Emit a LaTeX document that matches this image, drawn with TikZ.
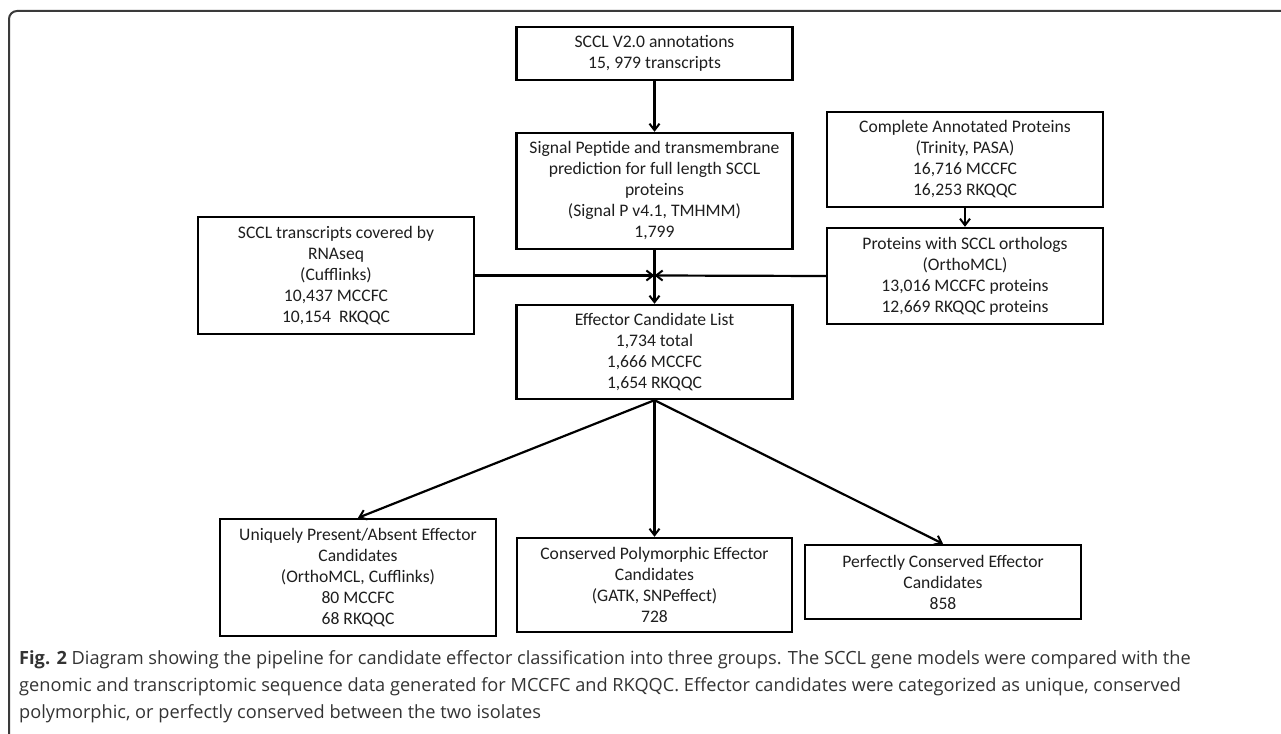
\documentclass[tikz,border=0pt]{standalone}
\usepackage{fontspec}
\setmainfont{Carlito}
\newfontfamily\capfont{Open Sans}
\usepackage{tikz}
\usetikzlibrary{shapes,arrows.meta,positioning,calc}

\definecolor{framegray}{HTML}{3A3A3A}
\definecolor{capgray}{HTML}{333333}
\definecolor{boxtext}{HTML}{1E1E1E}

\tikzset{
  stagebox/.style={draw=black, line width=2.4pt, align=center, inner sep=0pt, text=boxtext,
    minimum width=276pt, font=\fontsize{17.6}{21}\selectfont},
  flow/.style={line width=2.2pt, -{Straight Barb[length=6.5pt,width=10pt,line width=2pt]}},
}

\begin{document}
\begin{tikzpicture}[x=1pt,y=-1pt]
            \useasboundingbox (0,0) rectangle (1281,733);
            % frame
            \draw[framegray,line width=2pt,rounded corners=8pt] (9,740) -- (9,11) -- (1290,11);
            % main column
            \node[stagebox,minimum height=53pt] (annot) at (654.5,53.5) {SCCL V2.0 annotations\\15, 979 transcripts};
            \node[stagebox,minimum height=116pt] (sigp) at (654.5,191) {Signal Peptide and transmembrane\\prediction for full length SCCL\\proteins\\(Signal P v4.1, TMHMM)\\1,799};
            \node[stagebox,minimum height=94pt] (cand) at (654.5,352) {Effector Candidate List\\1,734 total\\1,666 MCCFC\\1,654 RKQQC};
            % side inputs
            \node[stagebox,minimum height=117pt] (rnaseq) at (336,275.5) {SCCL transcripts covered by\\RNAseq\\(Cufflinks)\\10,437 MCCFC\\10,154\ \ RKQQC};
            \node[stagebox,minimum height=95pt] (complete) at (965,159.5) {Complete Annotated Proteins\\(Trinity, PASA)\\16,716 MCCFC\\16,253 RKQQC};
            \node[stagebox,minimum height=96pt] (ortho) at (965,276) {Proteins with SCCL orthologs\\(OrthoMCL)\\13,016 MCCFC proteins\\12,669 RKQQC proteins};
            % three groups
            \node[stagebox,minimum height=117pt] (unique) at (358,577.5) {Uniquely Present/Absent Effector\\Candidates\\(OrthoMCL, Cufflinks)\\80 MCCFC\\68 RKQQC};
            \node[stagebox,minimum height=94pt,minimum width=275pt] (polym) at (654.5,585) {Conserved Polymorphic Effector\\Candidates\\(GATK, SNPeffect)\\728};
            \node[stagebox,minimum height=74pt] (perfect) at (943,582) {Perfectly Conserved Effector\\Candidates\\858};
            \coordinate (join) at (sigp.south |- rnaseq.east);
            \draw[flow] (annot) -- (sigp);
            \draw[flow] (sigp) -- (cand);
            \draw[flow] (rnaseq.east) -- (join);
            \draw[flow] (ortho.west) -- (join);
            \draw[flow] (complete) -- (ortho);
            \draw[flow] (cand.south) -- (unique.north);
            \draw[flow] (cand.south) -- (polym.north);
            \draw[flow] (cand.south) -- (perfect.north);
            % caption
            \node[anchor=north west, align=left, inner sep=0pt, text=capgray,
                  font=\capfont\fontsize{18.2}{27}\selectfont] (caption) at (19,650)
              {\textbf{Fig. 2} Diagram showing the pipeline for candidate effector classification into three groups. The SCCL gene models were compared with the\\
               genomic and transcriptomic sequence data generated for MCCFC and RKQQC. Effector candidates were categorized as unique, conserved\\
               polymorphic, or perfectly conserved between the two isolates};
        \end{tikzpicture}
\end{document}
